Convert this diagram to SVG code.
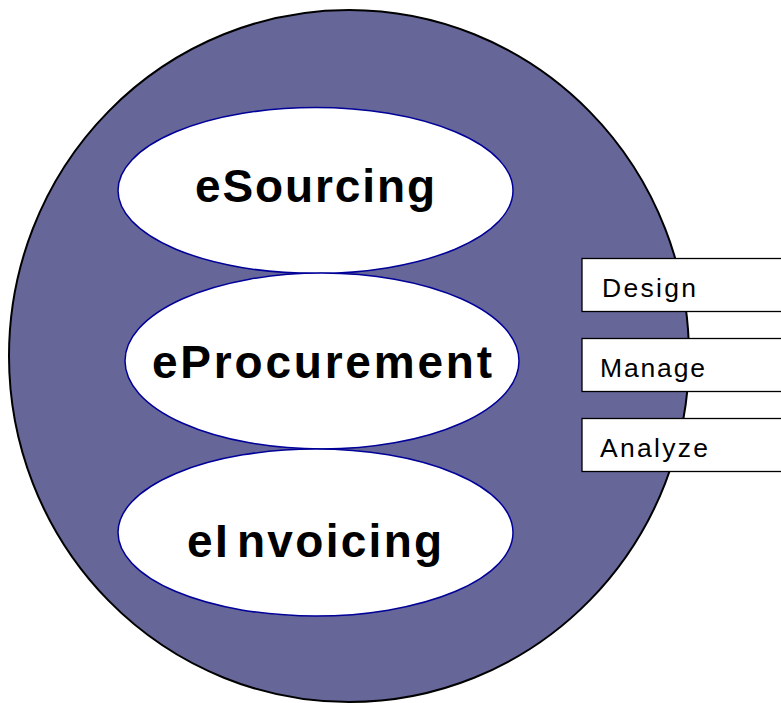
<svg xmlns="http://www.w3.org/2000/svg" width="781" height="703" viewBox="0 0 781 703">
  <style>
    .disc { fill: #666699; stroke: #000000; stroke-width: 2; }
    .stage { fill: #ffffff; stroke: #000099; stroke-width: 1.5; }
    .stage-label { font-family: "Liberation Sans", Arial, sans-serif; font-weight: bold; font-size: 46px; fill: #000000; }
    .tab { fill: #ffffff; stroke: #000000; stroke-width: 1.3; }
    .tab-label { font-family: "Liberation Sans", Arial, sans-serif; font-size: 26.5px; fill: #000000; }
  </style>

  <!-- background disc -->
  <g id="disc">
    <ellipse class="disc" cx="349" cy="356" rx="340" ry="346"/>
  </g>

  <!-- process stages -->
  <g id="node-esourcing">
    <ellipse class="stage" cx="315.5" cy="190.5" rx="197.5" ry="83"/>
    <text class="stage-label" x="195" y="202" textLength="240" lengthAdjust="spacing">eSourcing</text>
  </g>
  <g id="node-eprocurement">
    <ellipse class="stage" cx="322" cy="361" rx="197" ry="88"/>
    <text class="stage-label" x="152" y="378" textLength="340" lengthAdjust="spacing">eProcurement</text>
  </g>
  <g id="node-einvoicing">
    <ellipse class="stage" cx="315.5" cy="532.5" rx="197.5" ry="83.5"/>
    <text class="stage-label" x="187" y="557" letter-spacing="2.3">eI<tspan dx="7">nvoicing</tspan></text>
  </g>

  <!-- activity tabs -->
  <g id="node-design">
    <rect class="tab" x="582" y="258.5" width="220" height="53"/>
    <text class="tab-label" x="602" y="297" textLength="94" lengthAdjust="spacing">Design</text>
  </g>
  <g id="node-manage">
    <rect class="tab" x="582" y="338.5" width="220" height="53"/>
    <text class="tab-label" x="600" y="376.5" textLength="105" lengthAdjust="spacing">Manage</text>
  </g>
  <g id="node-analyze">
    <rect class="tab" x="582" y="418.5" width="220" height="53"/>
    <text class="tab-label" x="600" y="456.5" textLength="108" lengthAdjust="spacing">Analyze</text>
  </g>

  <g id="connectors"></g>
</svg>
